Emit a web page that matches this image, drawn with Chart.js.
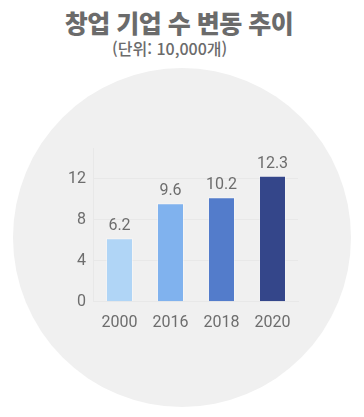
<!DOCTYPE html>
<html lang="ko">
<head>
<meta charset="utf-8">
<script src="https://cdn.jsdelivr.net/npm/chart.js@4.4.1/dist/chart.umd.min.js"></script>
<style>
    body { margin: 0; background: #fff; width: 364px; height: 417px; position: relative; overflow: hidden; }
    .circulo { position: absolute; left: 13px; top: 68px; width: 338px; height: 339px; border-radius: 50%; background: #f0f0f0; }
    .titulo { position: absolute; left: 0; width: 358px; top: 5px; text-align: center; font-family: 'Noto Sans CJK KR', sans-serif; font-weight: 900; font-size: 25px; letter-spacing: -0.5px; color: #6b6b6b; line-height: 34px; }
    .subtitulo { position: absolute; left: 112px; top: 37px; font-family: 'Noto Sans CJK KR', sans-serif; font-weight: 500; font-size: 16px; color: #6b6b6b; line-height: 22px; }
    .contenedor { position: absolute; left: 0; top: 0; width: 364px; height: 417px; }
</style>
</head>
<body>
<div class="circulo"></div>
<div class="titulo">창업 기업 수 변동 추이</div>
<div class="subtitulo">(단위: 10,000개)</div>
<div class="contenedor"><canvas id="graficoEmpresas"></canvas></div>
<script>
// Datos: número de empresas creadas (unidad: 10.000)
const anios = ['2000', '2016', '2018', '2020'];
const empresas = [6.2, 9.6, 10.2, 12.3];
const coloresBarras = ['#b0d5f6', '#80b2ee', '#537ccb', '#34468a'];
const ticksY = [0, 4, 8, 12];

const colorTexto = '#6d6d6d';

// Etiquetas encima de cada barra
const etiquetasBarras = {
    id: 'etiquetasBarras',
    afterDatasetsDraw(chart) {
        const ctx = chart.ctx;
        const meta = chart.getDatasetMeta(0);
        ctx.save();
        ctx.font = '16px Roboto';
        ctx.fillStyle = colorTexto;
        ctx.textAlign = 'center';
        ctx.textBaseline = 'alphabetic';
        meta.data.forEach(function(barra, i) {
            ctx.fillText(String(empresas[i]), barra.x, barra.y - 8);
        });
        ctx.restore();
    }
};

const canvas = document.getElementById('graficoEmpresas');
new Chart(canvas.getContext('2d'), {
    type: 'bar',
    data: {
        labels: anios,
        datasets: [{
            data: empresas,
            backgroundColor: coloresBarras,
            borderColor: 'rgba(255,255,255,0.35)',
            borderWidth: 1,
            categoryPercentage: 1,
            barPercentage: 0.53
        }]
    },
    options: {
        responsive: true,
        maintainAspectRatio: false,
        animation: false,
        layout: { padding: { left: 60, right: 66, top: 148, bottom: 80 } },
        plugins: {
            legend: { display: false },
            tooltip: { enabled: false }
        },
        scales: {
            x: {
                grid: { display: false },
                border: { color: '#e8e8e8' },
                ticks: { color: colorTexto, font: { family: 'Roboto', size: 16 }, padding: 4 }
            },
            y: {
                min: 0,
                max: 15,
                afterBuildTicks(scale) {
                    scale.ticks = ticksY.map(v => ({ value: v }));
                },
                grid: { color: '#e8e8e8', drawTicks: false },
                border: { color: '#e8e8e8' },
                ticks: { color: colorTexto, font: { family: 'Roboto', size: 16 }, padding: 8 }
            }
        }
    },
    plugins: [etiquetasBarras]
});
</script>
</body>
</html>
